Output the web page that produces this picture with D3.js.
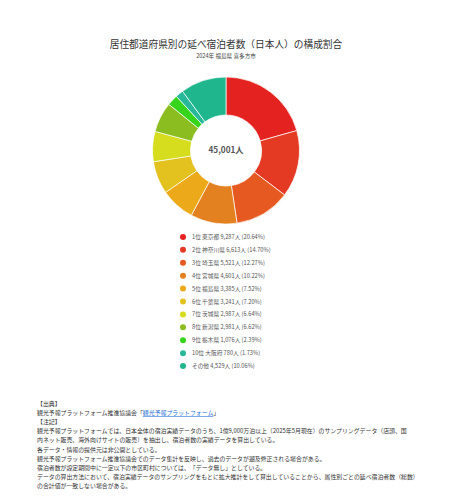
<!DOCTYPE html>
<html><head><meta charset="utf-8">
<script src="https://cdn.jsdelivr.net/npm/d3@7"></script>
<style>
html,body{margin:0;padding:0;background:#fff;}
svg{display:block;font-family:"Noto Sans CJK JP","Noto Sans",sans-serif;}
</style></head>
<body>
<svg id="chart" width="452" height="500"></svg>
<script>
const title = "居住都道府県別の延べ宿泊者数（日本人）の構成割合";
const subtitle = "2024年 福島県 喜多方市";
const ranks = ["1位","2位","3位","4位","5位","6位","7位","8位","9位","10位",""];
const prefectures = ["東京都","神奈川県","埼玉県","宮城県","福島県","千葉県","茨城県","新潟県","栃木県","大阪府","その他"];
const values = [9287,6613,5521,4601,3385,3241,2987,2981,1076,780,4529];
const colors = ["#e42320","#e43a24","#e65a22","#e3801f","#eca91a","#e3c11f","#d6dd1e","#8bbd21","#37d41c","#26b899","#20b68d"];
const noteLines = [
  "【出典】",
  "__LINK__",
  "【注記】",
  "観光予報プラットフォームでは、日本全体の宿泊実績データのうち、1億9,000万泊以上（2025年5月現在）のサンプリングデータ（店頭、国",
  "内ネット販売、海外向けサイトの販売）を抽出し、宿泊者数の実績データを算出している。",
  "各データ・情報の提供元は非公開としている。",
  "観光予報プラットフォーム推進協議会でのデータ集計を反映し、過去のデータが遡及修正される場合がある。",
  "宿泊者数が設定期間中に一定以下の市区町村については、「データ無し」としている。",
  "データの算出方法において、宿泊実績データのサンプリングをもとに拡大推計をして算出していることから、属性別ごとの延べ宿泊者数（総数）",
  "の合計値が一致しない場合がある。"
];

const svg = d3.select("#chart");
const total = d3.sum(values);
const data = values.map((v,i)=>({rank:ranks[i],name:prefectures[i],value:v,color:colors[i]}));

svg.append("text").attr("x",226).attr("y",48).attr("text-anchor","middle")
  .attr("font-size",9.7).attr("fill","#333").text(title);
svg.append("text").attr("x",226).attr("y",58).attr("text-anchor","middle")
  .attr("font-size",5.6).attr("fill","#444").text(subtitle);

const cx=226, cy=150.5, R=73.5, r=35.5;
const pie = d3.pie().value(d=>d.value).sort(null);
const arc = d3.arc().innerRadius(r).outerRadius(R);
const g = svg.append("g").attr("transform",`translate(${cx},${cy})`);
g.selectAll("path").data(pie(data)).join("path")
  .attr("d",arc).attr("fill",d=>d.data.color)
  .attr("stroke","#fff").attr("stroke-width",0.7);
g.append("text").attr("text-anchor","middle").attr("dy","0.35em")
  .attr("font-size",8.2).attr("font-weight","bold").attr("fill","#555")
  .text(d3.format(",")(total)+"人");

const fmt = d3.format(",");
const pct = d3.format(".2%");
const ly = d3.scaleBand().domain(d3.range(data.length)).range([230.5, 372.5]);
const leg = svg.append("g");
const rows = leg.selectAll("g").data(data).join("g")
  .attr("transform",(d,i)=>`translate(0,${ly(i)+ly.bandwidth()/2})`);
rows.append("circle").attr("cx",183).attr("cy",0).attr("r",3).attr("fill",d=>d.color);
rows.append("text").attr("x",192).attr("dy","0.35em").attr("font-size",5.7).attr("fill","#555")
  .text(d=>(d.rank?d.rank+" ":"")+d.name+" "+fmt(d.value)+"人 ("+pct(d.value/total)+")");

const ny = d3.scaleLinear().domain([0,1]).range([404,413.1]);
const notes = svg.append("g").attr("font-size",5.9).attr("fill","#333");
noteLines.forEach((t,i)=>{
  const tx = notes.append("text").attr("x",37).attr("y",ny(i)).attr("dy","0.35em");
  if(t==="__LINK__"){
    tx.append("tspan").text("観光予報プラットフォーム推進協議会「");
    tx.append("tspan").attr("fill","#2a6fd6").attr("text-decoration","underline").text("観光予報プラットフォーム");
    tx.append("tspan").text("」");
  } else tx.text(t);
});
</script>
</body></html>
